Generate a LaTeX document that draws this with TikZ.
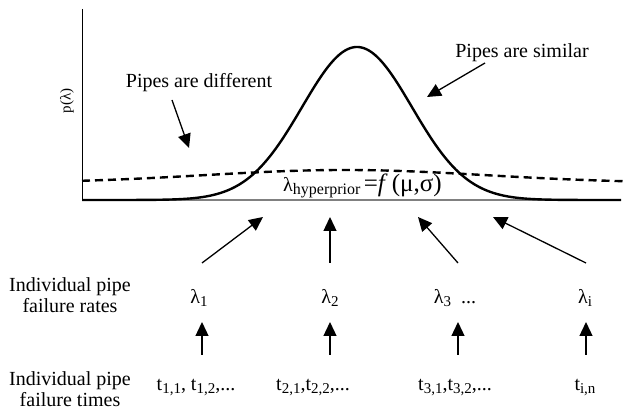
\documentclass[tikz,border=0pt]{standalone}
\usepackage{fontspec}
\setmainfont{Liberation Serif}
\usetikzlibrary{arrows.meta}
\newcommand{\lsub}[1]{\raisebox{-3pt}{\fontsize{15}{16}\selectfont #1}}
\begin{document}
\begin{tikzpicture}[x=1pt,y=-1pt,
  txt/.style={font=\fontsize{20}{21.5}\selectfont, inner sep=0pt, align=center},
  arr/.style={-{Triangle[length=14pt,width=13pt]}, line width=1.3pt},
  curve/.style={line width=2.4pt, line join=round},
  ]
\useasboundingbox (0,0) rectangle (624,411);
% axes
\draw[line width=1pt] (82,9) -- (82,200.5);
\draw[gray, line width=1.8pt] (82,200) -- (621,200);
% curves
\draw[curve, domain=82:621, samples=200, smooth]
  plot (\x, {200-153*exp(-(((\x-357)/55)^2)/2)});
\draw[curve, dash pattern=on 8pt off 5pt, domain=82:624, samples=60, smooth]
  plot (\x, {183-13*exp(-(((\x-345)/140)^2)/2)});
% axis label
\node[font=\fontsize{15}{18}\selectfont, rotate=90, inner sep=0pt] (p) at (67,101) {p(λ)};
% annotations
\node[txt] (diff) at (199,83) {Pipes are different};
\node[txt] (sim) at (522,53) {Pipes are similar};
\coordinate (diffS) at (172,100);
\coordinate (diffT) at (189,148);
\coordinate (simS) at (485,63);
\coordinate (simT) at (427,97);
\draw[arr] (diffS) -- (diffT);
\draw[arr] (simS) -- (simT);
\node[inner sep=0pt, anchor=base west] (hyp) at (283,192)
  {\fontsize{20}{23}\selectfont λ\raisebox{-2.5pt}{\fontsize{16}{18}\selectfont hyperprior}\,{\fontsize{25}{26}\selectfont =\textit{f}\,(μ,σ)}};
% row labels
\node[txt] (rates) at (70,295) {Individual pipe\\failure rates};
\node[txt] (times) at (70,389) {Individual pipe\\failure times};
% lambda nodes
\node[txt] (l1) at (199,298) {λ\lsub{1}};
\node[txt] (l2) at (330,298) {λ\lsub{2}};
\node[txt] (l3) at (455,298) {λ\lsub{3}\ \ ...};
\node[txt] (li) at (585,298) {λ\lsub{i}};
% time nodes
\node[txt] (t1) at (196,388) {t\lsub{1,1}, t\lsub{1,2},...};
\node[txt] (t2) at (313,388) {t\lsub{2,1},t\lsub{2,2},...};
\node[txt] (t3) at (455,388) {t\lsub{3,1},t\lsub{3,2},...};
\node[txt] (ti) at (585,388) {t\lsub{i,n}};
% upper arrow coordinates
\coordinate (u1s) at (202,263); \coordinate (u1t) at (263,217);
\coordinate (u2s) at (330,263); \coordinate (u2t) at (330,217);
\coordinate (u3s) at (458,263); \coordinate (u3t) at (418,217);
\coordinate (u4s) at (586,263); \coordinate (u4t) at (493,217);
\draw[arr] (u1s) -- (u1t);
\draw[arr] (u2s) -- (u2t);
\draw[arr] (u3s) -- (u3t);
\draw[arr] (u4s) -- (u4t);
% lower arrows
\coordinate (b1s) at (202,355); \coordinate (b1t) at (202,322);
\coordinate (b2s) at (330,355); \coordinate (b2t) at (330,322);
\coordinate (b3s) at (458,355); \coordinate (b3t) at (458,322);
\coordinate (b4s) at (586,355); \coordinate (b4t) at (586,322);
\draw[arr] (b1s) -- (b1t);
\draw[arr] (b2s) -- (b2t);
\draw[arr] (b3s) -- (b3t);
\draw[arr] (b4s) -- (b4t);
\end{tikzpicture}
\end{document}
